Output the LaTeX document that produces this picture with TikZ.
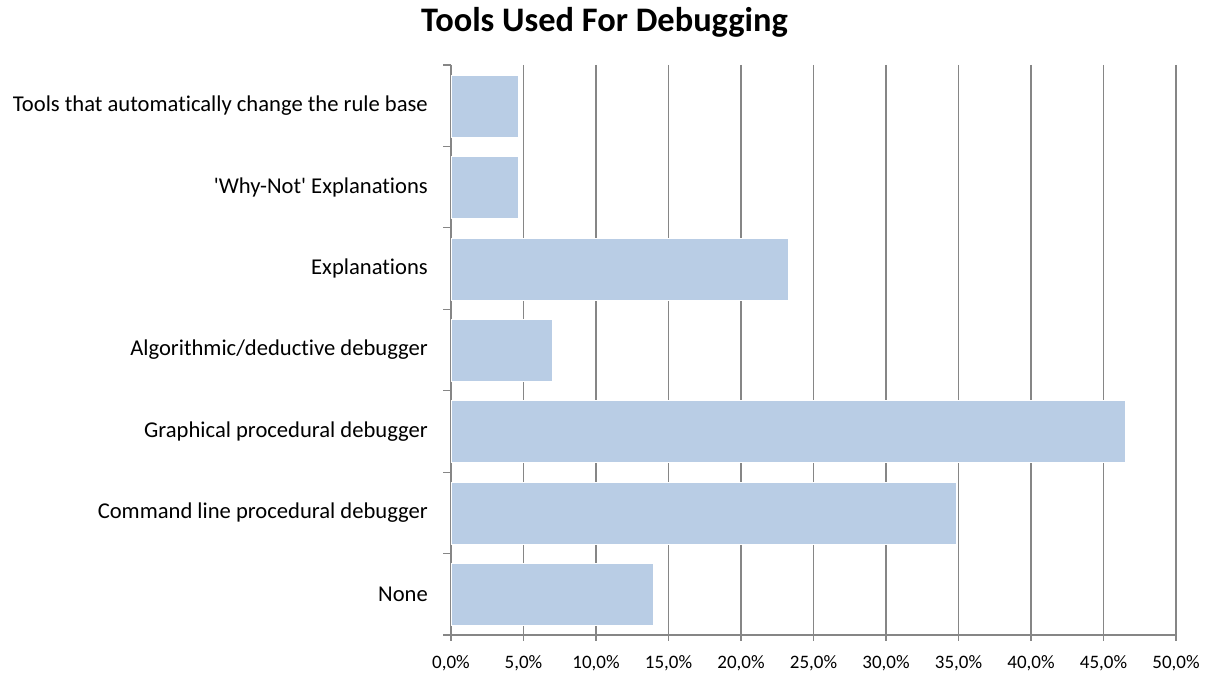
\documentclass[tikz,border=0pt]{standalone}
\usepackage{fontspec}
\setmainfont{Carlito}[Ligatures=NoCommon]
\usetikzlibrary{positioning}
\definecolor{barblue}{HTML}{B9CDE5}
\definecolor{gridgray}{HTML}{868686}
\begin{document}
\begin{tikzpicture}[x=1pt,y=-1pt,
  bar/.style={fill=barblue,draw=white,line width=0.6pt},
  gridline/.style={draw=gridgray,line width=1.2pt},
  catlabel/.style={anchor=east,inner sep=0pt,font=\fontsize{22.6}{24}\selectfont},
  ticklabel/.style={anchor=center,inner sep=0pt,font=\fontsize{19}{21}\selectfont},
  titlelabel/.style={inner sep=0pt,font=\bfseries\fontsize{34.4}{38}\selectfont}
]
\useasboundingbox (0,0) rectangle (1210,677);
\node[titlelabel] (title) at (604.5,22) {Tools Used For Debugging};
% vertical grid and bottom ticks
\foreach \v in {5,10,...,50}
  \draw[gridline] (451+14.5*\v,65) -- (451+14.5*\v,641);
\foreach \v in {0,5,...,50}
  \node[ticklabel] (tick\v) at (451+14.5*\v,663) {\v,0\%};
% axes
\draw[gridline] (451,65) -- (451,641);
\draw[gridline] (451,635) -- (1176,635);
\foreach \i in {0,...,7}
  \draw[gridline] (443,65+81.43*\i) -- (451,65+81.43*\i);
% bars and category labels
\foreach \val/\lab [count=\i from 0] in {
    4.65/{Tools that automatically change the rule base},
    4.65/{\textquotesingle Why-Not\textquotesingle{} Explanations},
    23.26/{Explanations},
    6.98/{Algorithmic/deductive debugger},
    46.51/{Graphical procedural debugger},
    34.88/{Command line procedural debugger},
    13.95/{None}}{
  \draw[bar] (451.6,65+81.43*\i+10) rectangle (451+14.5*\val,65+81.43*\i+72);
  \node[catlabel] (cat\i) at (428,65+81.43*\i+40.7) {\lab};
}
\end{tikzpicture}
\end{document}
